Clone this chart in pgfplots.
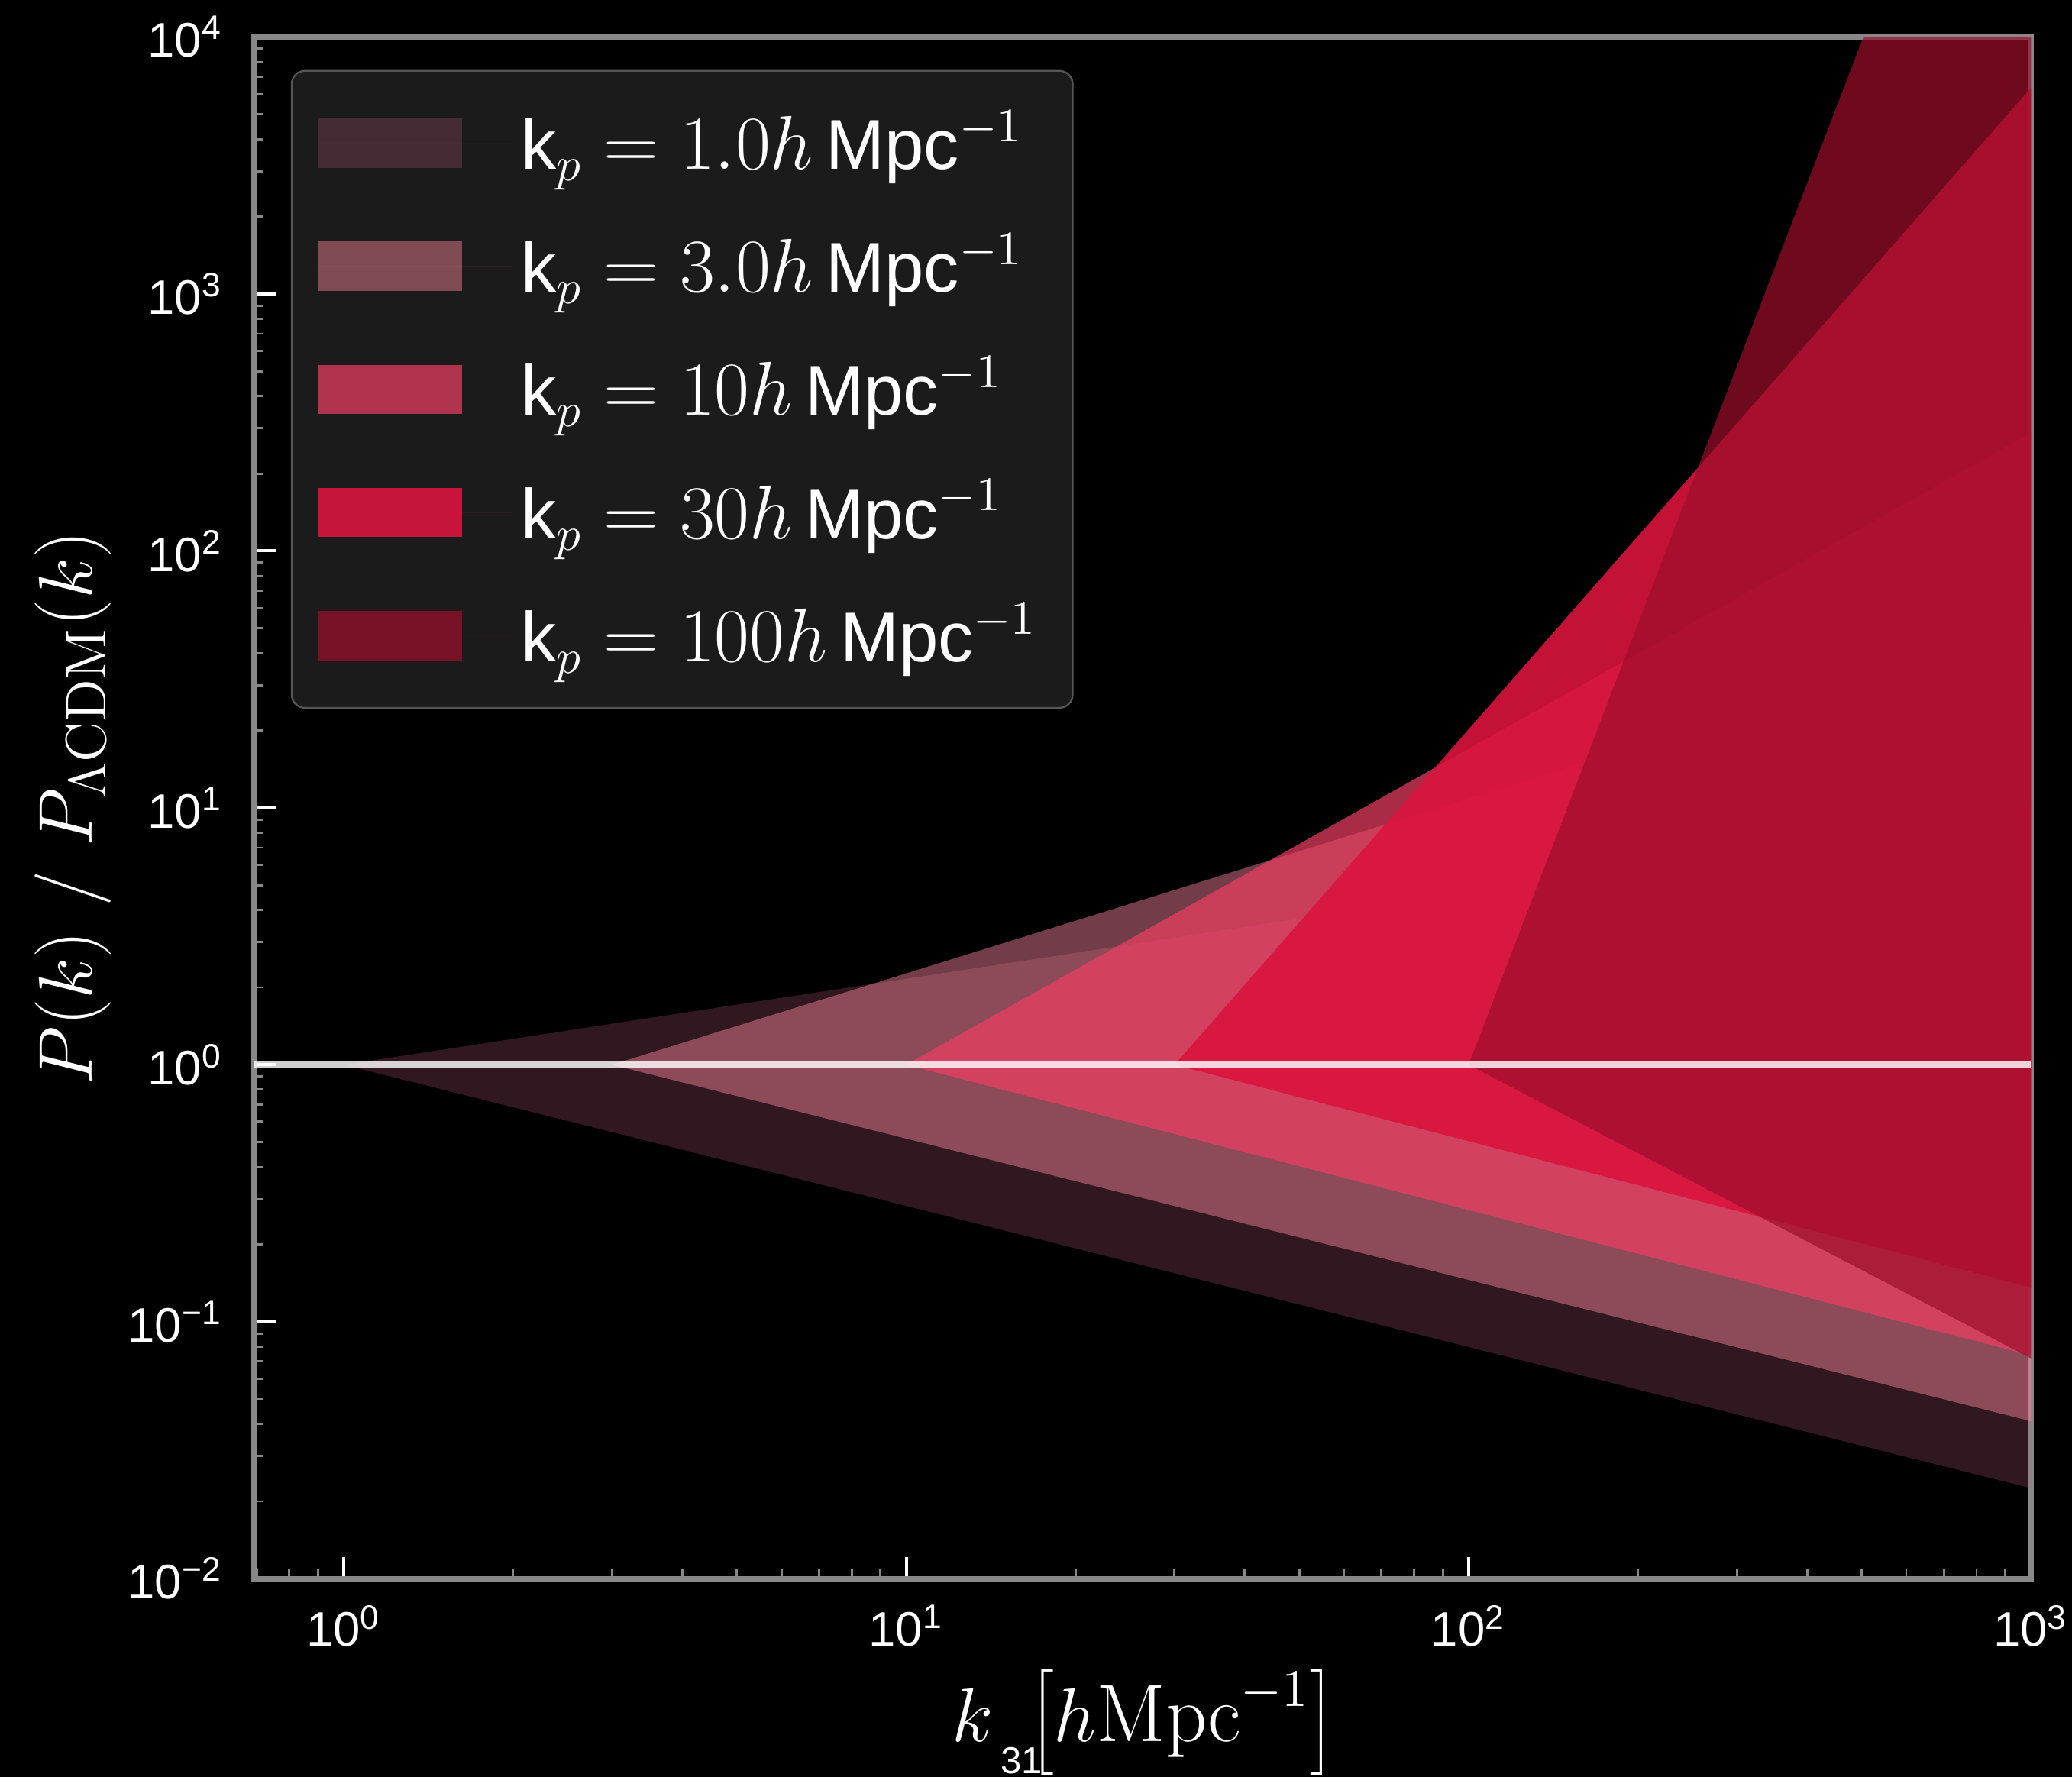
\documentclass[border=0pt]{standalone}
\usepackage{fontspec}
\setsansfont{Liberation Sans}
\usepackage{pgfplots}
\pgfplotsset{compat=1.18}
\definecolor{cA}{RGB}{196,96,128}
\definecolor{cB}{RGB}{250,133,157}
\definecolor{cC}{RGB}{240,63,99}
\definecolor{cD}{RGB}{218,20,62}
\definecolor{cE}{RGB}{157,14,43}
\definecolor{spine}{RGB}{136,136,136}
\definecolor{legbg}{RGB}{27,27,27}
\definecolor{legedge}{RGB}{85,85,85}
\begin{document}
\begin{tikzpicture}
\fill[black] (-57.6pt,-45pt) rectangle (412.5pt,358.2pt);
\begin{axis}[
  at={(0,0)}, anchor=south west,
  scale only axis, width=403.2pt, height=349.8pt,
  clip mode=individual,
  xmode=log, ymode=log,
  xmin=0.692, xmax=1000, ymin=0.01, ymax=10000,
  axis line style={spine, line width=1.2pt},
  tick align=inside, xtick pos=bottom, ytick pos=left,
  major tick length=4.9pt, minor tick length=2.1pt,
  major tick style={white, line width=0.7pt},
  minor tick style={spine, line width=0.5pt},
  xtick={1,10,100,1000},
  minor xtick={0.7,0.8,0.9,2,3,4,5,6,7,8,9,20,30,40,50,60,70,80,90,200,300,400,500,600,700,800,900},
  xticklabels={10\textsuperscript{0},10\textsuperscript{1},10\textsuperscript{2},10\textsuperscript{3}},
  ytick={0.01,0.1,1,10,100,1000,10000},
  minor ytick={0.02,0.03,0.04,0.05,0.06,0.07,0.08,0.09,0.2,0.3,0.4,0.5,0.6,0.7,0.8,0.9,2,3,4,5,6,7,8,9,20,30,40,50,60,70,80,90,200,300,400,500,600,700,800,900,2000,3000,4000,5000,6000,7000,8000,9000},
  yticklabels={10\textsuperscript{−2},10\textsuperscript{−1},10\textsuperscript{0},10\textsuperscript{1},10\textsuperscript{2},10\textsuperscript{3},10\textsuperscript{4}},
  tick label style={text=white, font=\fontsize{11}{13}\selectfont\sffamily},
  xticklabel style={yshift=-2.5pt},
  yticklabel style={xshift=-3.5pt},
  xlabel={$k\ \left[h\mathrm{Mpc}^{-1}\right]$},
  ylabel={$P(k)\ /\ P_{\Lambda\mathrm{CDM}}(k)$},
  label style={text=white, font=\fontsize{18.5}{22}\selectfont},
  xlabel style={at={(axis description cs:0.5,-0.1055)}, anchor=base},
  ylabel style={at={(axis description cs:-0.1017,0.5)}, anchor=center},
  legend style={at={(0.0208,0.9786)}, anchor=north west, fill=legbg, draw=legedge,
    line width=0.4pt, rounded corners=3pt, text=white,
    font=\fontsize{16}{19}\selectfont, row sep=9.1pt,
    inner xsep=6pt, inner ysep=7pt},
  legend cell align=left,
  legend image code/.code={\path (0pt,0pt) -- (44pt,0pt);\fill[#1, sharp corners] (0pt,-5.6pt) rectangle (32.7pt,5.6pt);},
]
\addplot[fill=cA, fill opacity=0.25, draw=none] coordinates {(1,1) (1000,10.1) (1000,0.0225)} -- cycle;
\addlegendentry{\textsf{k}$_p=1.0h\,$\textsf{Mpc}$^{-1}$}
\addplot[fill=cB, fill opacity=0.46, draw=none] coordinates {(3,1) (1000,52) (1000,0.041)} -- cycle;
\addlegendentry{\textsf{k}$_p=3.0h\,$\textsf{Mpc}$^{-1}$}
\addplot[fill=cC, fill opacity=0.7, draw=none] coordinates {(10,1) (1000,288) (1000,0.074)} -- cycle;
\addlegendentry{\textsf{k}$_p=10h\,$\textsf{Mpc}$^{-1}$}
\addplot[fill=cD, fill opacity=0.9, draw=none] coordinates {(30,1) (1000,6340) (1000,0.136)} -- cycle;
\addlegendentry{\textsf{k}$_p=30h\,$\textsf{Mpc}$^{-1}$}
\addplot[fill=cE, fill opacity=0.7, draw=none] coordinates {(100,1) (1000,500000) (1000,0.072)} -- cycle;
\addlegendentry{\textsf{k}$_p=100h\,$\textsf{Mpc}$^{-1}$}
\addplot[white, opacity=0.82, line width=1.5pt, forget plot] coordinates {(0.692,1) (1000,1)};
\node[text=white, font=\fontsize{8.5}{10}\selectfont\sffamily] at (axis description cs:0.432,-0.1183) {31};
\end{axis}
\pgfresetboundingbox
\path[use as bounding box] (-57.6pt,-45pt) rectangle (412.5pt,358.2pt);
\end{tikzpicture}
\end{document}
